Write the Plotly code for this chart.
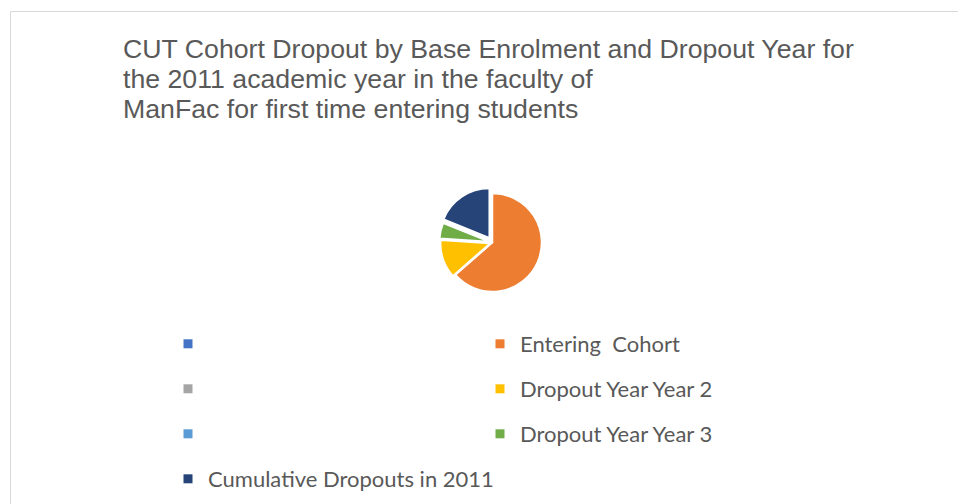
import plotly.graph_objects as go

# Cohort figures for the 2011 first-time entering students (ManFac)
categories = ["", "Entering  Cohort", "", "Dropout Year Year 2", "",
              "Dropout Year Year 3", "Cumulative Dropouts in 2011"]
values = [0, 340, 0, 67, 0, 27, 101]
colors = ["#4472C4", "#ED7D31", "#A5A5A5", "#FFC000", "#5B9BD5",
          "#70AD47", "#264478"]
pulls = [0, 0, 0, 0.06, 0, 0.08, 0.12]

title_lines = ["CUT Cohort Dropout by Base Enrolment and Dropout Year for",
               "the 2011 academic year in the faculty of",
               "ManFac for first time entering students"]

W, H = 958, 504
cx, cy, r = 492.5, 242.5, 49
half = r * (1 + max(pulls))

fig = go.Figure()

# unique slice ids so the blank categories stay separate slices
slice_ids = [f"c{i}" for i in range(len(categories))]
fig.add_trace(go.Pie(
    labels=slice_ids,
    values=values,
    sort=False,
    direction="clockwise",
    rotation=0,
    pull=pulls,
    marker=dict(colors=colors, line=dict(color="white", width=1.5)),
    textinfo="none",
    hoverinfo="skip",
    showlegend=False,
    domain=dict(x=[(cx - half) / W, (cx + half) / W],
                y=[1 - (cy + half) / H, 1 - (cy - half) / H]),
))

# legend entries: left column holds items 1,3,5,7; right column items 2,4,6
for i, (name, col) in enumerate(zip(categories, colors)):
    fig.add_trace(go.Scatter(
        x=[None], y=[None], mode="markers", name=name if name else " ",
        marker=dict(symbol="square", size=9, color=col),
        legend="legend" if i % 2 == 0 else "legend2",
        legendgroup=f"g{i}", showlegend=True, hoverinfo="skip",
    ))

legend_common = dict(
    orientation="v", xanchor="left", yanchor="top",
    font=dict(family="Lato", size=22, color="#595959"),
    bgcolor="rgba(0,0,0,0)", tracegroupgap=13.4, itemclick=False,
)

# title, one annotation per line for tight line spacing
title_y = [48.7, 79.3, 109.3]
annotations = [dict(text=t, x=121 / W, y=1 - yy / H, xref="paper", yref="paper",
                    xanchor="left", yanchor="middle", showarrow=False,
                    font=dict(family="Liberation Sans", size=26.7, color="#595959"))
               for t, yy in zip(title_lines, title_y)]

fig.update_layout(
    width=W, height=H,
    margin=dict(l=0, r=0, t=0, b=0),
    paper_bgcolor="white", plot_bgcolor="white",
    xaxis=dict(visible=False), yaxis=dict(visible=False),
    annotations=annotations,
    legend=dict(x=168 / W, y=1 - 323 / H, **legend_common),
    legend2=dict(x=480 / W, y=1 - 323 / H, **legend_common),
    shapes=[dict(type="rect", xref="paper", yref="paper",
                 x0=10.5 / W, x1=1.1, y0=1 - 11.5 / H, y1=-0.1,
                 line=dict(color="#D9D9D9", width=1), fillcolor="rgba(0,0,0,0)")],
)

fig.write_html("out.html")
